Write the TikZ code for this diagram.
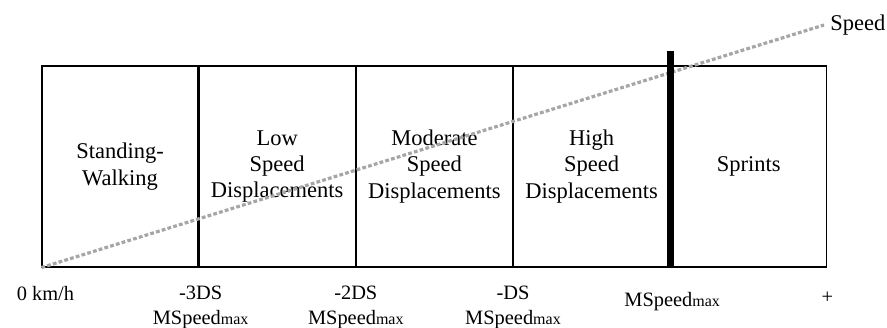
\documentclass[tikz,border=0pt]{standalone}
\usepackage{fontspec}
\setmainfont{Liberation Serif}
\usetikzlibrary{positioning}
\newcommand{\mspd}{MSpeed{\fontsize{8}{8}\selectfont max}}
\tikzset{
  zone/.style={draw, line width=0.6pt, minimum width=78pt, minimum height=100.5pt,
               align=center, inner sep=0pt, font=\fontsize{11.25}{13.2}\selectfont},
  tick/.style={font=\fontsize{10.2}{12.5}\selectfont, inner sep=0pt, align=center},
  speedline/.style={gray!70, line width=1.6pt, dash pattern=on 1.9pt off 1.1pt},
  limit/.style={line width=3.5pt},
}
\begin{document}
\begin{tikzpicture}[x=0.5pt,y=-0.5pt]
  \useasboundingbox (0,0) rectangle (887,327);

  % zones
  \node[zone] (sw) at (120,166.5) {Standing-\\Walking};
  \node[zone, right=0pt of sw]  (lsd) {Low\\Speed\\Displacements};
  \node[zone, right=0pt of lsd] (msd) {Moderate\\Speed\\Displacements};
  \node[zone, right=0pt of msd] (hsd) {High\\Speed\\Displacements};
  \node[zone, right=0pt of hsd] (sp)  {Sprints};

  % speed axis
  \node[tick, font=\fontsize{11.25}{13}\selectfont, anchor=west] (spd) at (830,25) {Speed};
  \draw[speedline] (sw.south west) -- ([xshift=-3pt]spd.west);

  % sprint threshold
  \coordinate (bartop) at ([yshift=7pt]sp.north west);
  \draw[limit] (bartop) -- (sp.south west);

  % thresholds
  \node[tick, below=9pt of sw.south west, xshift=2pt]  (zero) {0 km/h};
  \node[tick, below=9pt of lsd.south west, xshift=1pt] (t3) {-3DS\\\mspd};
  \node[tick, below=9pt of msd.south west]             (t2) {-2DS\\\mspd};
  \node[tick, below=9pt of hsd.south west]             (t1) {-DS\\\mspd};
  \node[tick, below=12pt of sp.south west, xshift=1pt] (tmax) {\mspd};
  \node[tick, below=12pt of sp.south east]             (plus) {+};
\end{tikzpicture}
\end{document}
